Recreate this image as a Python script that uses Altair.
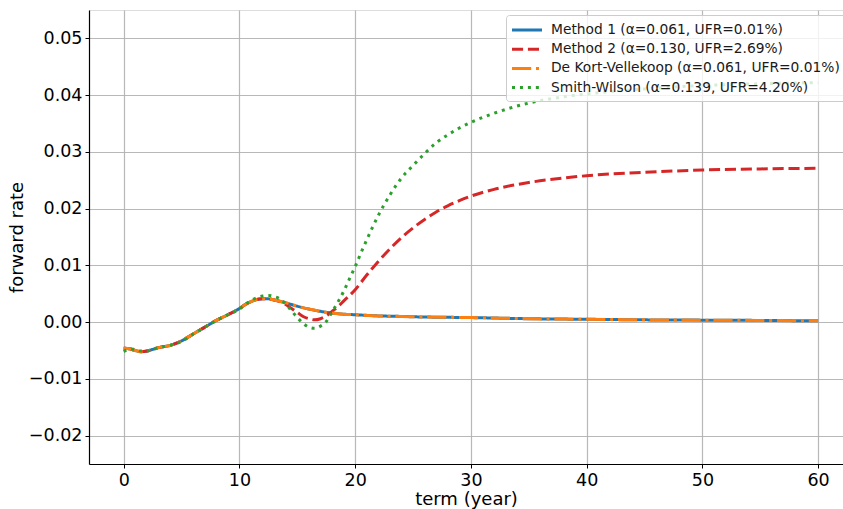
import altair as alt
import pandas as pd

series_names = [
    "Method 1 (α=0.061, UFR=0.01%)",
    "Method 2 (α=0.130, UFR=2.69%)",
    "De Kort-Vellekoop (α=0.061, UFR=0.01%)",
    "Smith-Wilson (α=0.139, UFR=4.20%)",
]
colors = ["#1f77b4", "#d62728", "#ff7f0e", "#2ca02c"]
dashes = [[1, 0], [11.1, 4.8], [19.2, 4.8, 3, 4.8], [3, 4.95]]

t1 = [0, 0.5, 1, 1.5, 2, 2.5, 3, 4, 5, 6, 7, 8, 9, 10, 10.5, 11, 11.5, 12, 12.5, 13, 14, 15,
      16, 17, 18, 19, 20, 22, 24, 26, 28, 30, 35, 40, 45, 50, 55, 60]
v1 = [-0.0046, -0.0047, -0.0050, -0.0052, -0.0051, -0.0048, -0.0045, -0.0041, -0.0033, -0.0021,
      -0.0009, 0.0003, 0.0013, 0.0024, 0.0031, 0.0036, 0.0040, 0.0041, 0.0041, 0.0039, 0.0034,
      0.0028, 0.0023, 0.0019, 0.0016, 0.0014, 0.0013, 0.0011, 0.0010, 0.0009, 0.00085, 0.0008,
      0.0006, 0.0005, 0.0004, 0.00035, 0.0003, 0.00023]

t2 = [0, 0.5, 1, 1.5, 2, 2.5, 3, 4, 5, 6, 7, 8, 9, 10, 10.5, 11, 11.5, 12, 12.5, 13, 13.5, 14,
      14.5, 15, 15.5, 16, 16.5, 17, 17.5, 18, 18.5, 19, 20, 21, 22, 23, 24, 25, 26, 27, 28, 29,
      30, 32, 35, 38, 40, 45, 50, 55, 60]
v2 = [-0.0046, -0.0047, -0.0050, -0.0052, -0.0051, -0.0048, -0.0045, -0.0041, -0.0033, -0.0021,
      -0.0009, 0.0003, 0.0013, 0.0024, 0.0031, 0.0036, 0.0040, 0.0041, 0.0041, 0.0039, 0.0036,
      0.0031, 0.0024, 0.0017, 0.0010, 0.0006, 0.0004, 0.0006, 0.0011, 0.0019, 0.0027, 0.0037,
      0.0057, 0.0083, 0.0107, 0.0129, 0.0149, 0.0166, 0.0181, 0.0194, 0.0205, 0.0214, 0.0222,
      0.0234, 0.0246, 0.0254, 0.0258, 0.0264, 0.0268, 0.0270, 0.0271]

t3 = [0, 0.5, 1, 1.5, 2, 2.5, 3, 4, 5, 6, 7, 8, 9, 10, 10.5, 11, 11.5, 12, 12.5, 13, 14, 15,
      16, 17, 18, 19, 20, 22, 24, 26, 28, 30, 35, 40, 45, 50, 55, 60]
v3 = [-0.0046, -0.0047, -0.0050, -0.0052, -0.0051, -0.0048, -0.0045, -0.0041, -0.0033, -0.0021,
      -0.0009, 0.0003, 0.0013, 0.0024, 0.0031, 0.0036, 0.0040, 0.0041, 0.0041, 0.0039, 0.0034,
      0.0028, 0.0023, 0.0019, 0.0016, 0.0014, 0.0013, 0.0011, 0.0010, 0.0009, 0.00085, 0.0008,
      0.0006, 0.0005, 0.0004, 0.00035, 0.0003, 0.00023]

t4 = [0, 0.5, 1, 1.5, 2, 2.5, 3, 4, 5, 6, 7, 8, 9, 10, 10.5, 11, 11.5, 12, 12.5, 13, 13.5, 14,
      14.5, 15, 15.5, 16, 16.5, 17, 17.5, 18, 18.5, 19, 19.5, 20, 20.5, 21, 22, 23, 24, 25, 26,
      27, 28, 29, 30, 32, 35, 38, 40, 45, 50, 55, 60]
v4 = [-0.0052, -0.0048, -0.0048, -0.0051, -0.0051, -0.0048, -0.0045, -0.0041, -0.0034, -0.0021,
      -0.0009, 0.0003, 0.0013, 0.0023, 0.0031, 0.0038, 0.0043, 0.0046, 0.0047, 0.0045, 0.0041,
      0.0032, 0.0020, 0.0008, -0.0002, -0.0009, -0.0011, -0.0007, 0.0001, 0.0018, 0.0035,
      0.0054, 0.0076, 0.0098, 0.0122, 0.0145, 0.0188, 0.0224, 0.0254, 0.0276, 0.0297, 0.0316,
      0.0330, 0.0342, 0.0352, 0.0368, 0.0386, 0.0397, 0.0402, 0.0411, 0.0417, 0.0420, 0.0422]

x_ticks = [0, 10, 20, 30, 40, 50, 60]
y_ticks = [-0.02, -0.01, 0.0, 0.01, 0.02, 0.03, 0.04, 0.05]

frames = []
for name, t, v in zip(series_names, [t1, t2, t3, t4], [v1, v2, v3, v4]):
    frames.append(pd.DataFrame({"term": t, "value": v, "series": name}))
df = pd.concat(frames, ignore_index=True)

FONT = "DejaVu Sans"
axis_style = dict(labelFont=FONT, titleFont=FONT, labelColor="#000000", titleColor="#000000",
                  titleFontWeight="normal", labelFontWeight="normal",
                  domainColor="#000000", tickColor="#000000", domainWidth=1.2,
                  gridColor="#b0b0b0", gridWidth=1.2, gridOpacity=0.9,
                  labelFontSize=17.5, titleFontSize=18, labelPadding=3, tickSize=4)

x_enc = alt.X("term:Q", title="term (year)",
              scale=alt.Scale(domain=[-3, 62.15], nice=False, zero=False),
              axis=alt.Axis(values=x_ticks, format="d", titlePadding=2, labelFlush=False,
                            **axis_style))
y_enc = alt.Y("value:Q", title="forward rate",
              scale=alt.Scale(domain=[-0.025, 0.055], nice=False, zero=False),
              axis=alt.Axis(values=y_ticks, format=".2f", titlePadding=2, **axis_style))
color_enc = alt.Color("series:N", scale=alt.Scale(domain=series_names, range=colors),
                      legend=alt.Legend(title=None, orient="none", legendX=417, legendY=5,
                                        symbolType="M-2,0H2", symbolSize=225,
                                        symbolStrokeWidth=3, symbolFillColor="transparent",
                                        symbolOffset=6, labelOffset=15,
                                        labelFontSize=13.8, labelFont=FONT, labelLimit=400,
                                        labelColor="#1a1a1a",
                                        fillColor="rgba(255,255,255,0.8)",
                                        strokeColor="#cccccc", cornerRadius=3, padding=6,
                                        rowPadding=3.2))
dash_enc = alt.StrokeDash("series:N", scale=alt.Scale(domain=series_names, range=dashes))

layers = []
for name in series_names:
    layers.append(
        alt.Chart(df).transform_filter(alt.datum.series == name)
        .mark_line(strokeWidth=3, interpolate="monotone", strokeCap="butt", clip=True)
        .encode(x=x_enc, y=y_enc, color=color_enc, strokeDash=dash_enc)
    )

chart = alt.layer(*layers).properties(
    width=754, height=454,
    autosize=alt.AutoSizeParams(type="none"),
    padding={"left": 89, "top": 10, "right": 0, "bottom": 45},
).configure_view(
    stroke="#808080", strokeWidth=1.5
).configure(background="white")

chart.save("out.html", embed_options={"renderer": "svg", "actions": False})
